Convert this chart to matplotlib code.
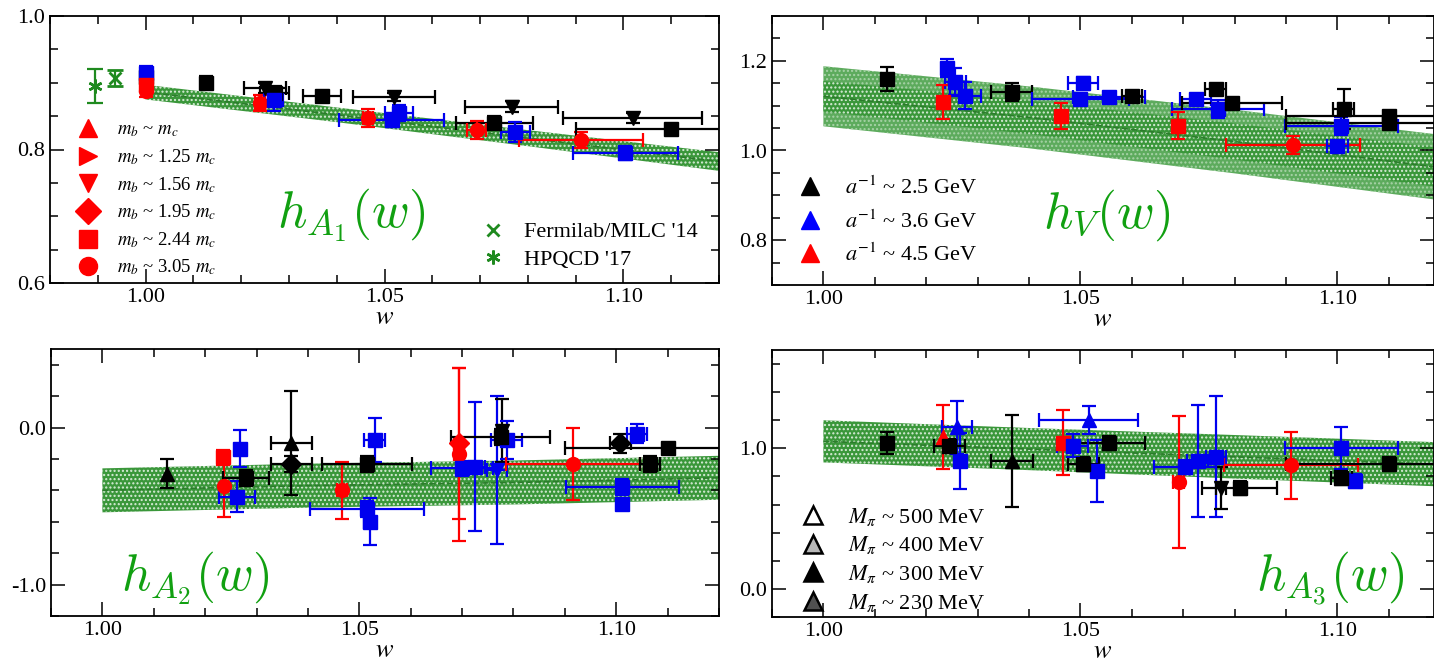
import matplotlib.pyplot as plt
from matplotlib.lines import Line2D
from matplotlib.ticker import MultipleLocator

plt.rcParams['font.family'] = ['Liberation Serif', 'DejaVu Serif']
plt.rcParams['mathtext.fontset'] = 'stix'
plt.rcParams['hatch.linewidth'] = 1.0

# fit bands (w nodes, centre, half width)
band_w = [1.00, 1.04, 1.08, 1.12]
ha1_mid = [0.886, 0.852, 0.817, 0.782]
ha1_err = [0.011, 0.011, 0.012, 0.014]
hv_mid = [1.121, 1.074, 1.020, 0.962]
hv_err_in = [0.034, 0.037, 0.040, 0.044]
hv_err_out = [0.067, 0.069, 0.071, 0.073]
ha2_mid = [-0.40, -0.37, -0.35, -0.32]
ha2_err = [0.14, 0.14, 0.14, 0.14]
ha3_mid = [1.05, 0.995, 0.94, 0.886]
ha3_err = [0.15, 0.15, 0.155, 0.157]

# lattice data: w, value, w error, value error, colour, symbol
ha1_w = [1.000, 1.000, 1.000, 1.000, 1.0127, 1.025, 1.027, 1.024, 1.0268, 1.0369, 1.0465,
         1.0515, 1.053, 1.052, 1.0766, 1.073, 1.0693, 1.0774, 1.0911, 1.1019, 1.1004, 1.110]
ha1_val = [0.908, 0.915, 0.897, 0.888, 0.900, 0.892, 0.885, 0.870, 0.874, 0.880, 0.847,
           0.844, 0.855, 0.879, 0.864, 0.840, 0.829, 0.826, 0.814, 0.847, 0.795, 0.830]
ha1_werr = [0, 0, 0, 0, 0, 0.0043, 0.003, 0.001, 0.002, 0.004, 0.001,
            0.011, 0.003, 0.0086, 0.0097, 0.008, 0.002, 0.003, 0.013, 0.0145, 0.011, 0.020]
ha1_verr = [0.008, 0.010, 0.010, 0.010, 0.010, 0.008, 0.010, 0.012, 0.016, 0.008, 0.013,
            0.010, 0.012, 0.006, 0.008, 0.010, 0.013, 0.015, 0.012, 0.008, 0.010, 0.006]
ha1_col = "kbrrkkkrbkrbbkkkrbrkbk"
ha1_mk = "sssosvsossossvvsosovss"

fnal_w, fnal_val, fnal_err = [0.9936], [0.907], [0.012]
hpqcd_w, hpqcd_val, hpqcd_err = [0.9894], [0.895], [0.026]

hv_w = [1.0123, 1.024, 1.0257, 1.0276, 1.0233, 1.0366, 1.050, 1.0505, 1.0463, 1.0555, 1.060,
        1.0724, 1.0768, 1.0763, 1.069, 1.0795, 1.0914, 1.1008, 1.1012, 1.110, 1.110, 1.100]
hv_val = [1.160, 1.185, 1.153, 1.122, 1.108, 1.130, 1.115, 1.150, 1.077, 1.120, 1.121,
          1.115, 1.092, 1.137, 1.055, 1.107, 1.013, 1.054, 1.092, 1.077, 1.062, 1.010]
hv_werr = [0, 0, 0.002, 0.003, 0, 0.004, 0.0095, 0.003, 0, 0.007, 0.002,
           0.003, 0.009, 0.002, 0, 0.0097, 0.013, 0.011, 0.002, 0.020, 0.020, 0.002]
hv_verr = [0.027, 0.020, 0.030, 0.030, 0.037, 0.020, 0.012, 0.015, 0.030, 0.010, 0.012,
           0.012, 0.020, 0.012, 0.030, 0.008, 0.020, 0.020, 0.045, 0.006, 0.006, 0.012]
hv_col = "kbbbrkbbrbkbbkrkrbkkkb"
hv_mk = "ssssssssssssssssosssss"

ha2_w = [1.0125, 1.0234, 1.0236, 1.0267, 1.0262, 1.0280, 1.0368, 1.0368, 1.0466, 1.0515,
         1.053, 1.052, 1.0515, 1.0694, 1.0694, 1.0725, 1.0768, 1.0778, 1.0787, 1.0775,
         1.0916, 1.1012, 1.1012, 1.1008, 1.104, 1.110, 1.1066, 1.070]
ha2_val = [-0.293, -0.19, -0.37, -0.134, -0.44, -0.32, -0.10, -0.23, -0.40, -0.52,
           -0.08, -0.60, -0.23, -0.10, -0.17, -0.25, -0.27, -0.02, -0.08, -0.06,
           -0.23, -0.38, -0.49, -0.10, -0.04, -0.13, -0.23, -0.26]
ha2_werr = [0, 0, 0, 0, 0.0035, 0.0045, 0.004, 0.004, 0.001, 0.011,
            0.002, 0.001, 0.0087, 0.001, 0.001, 0.002, 0.002, 0.001, 0.003, 0.0097,
            0.013, 0.011, 0, 0.002, 0.002, 0.020, 0.002, 0.006]
ha2_verr = [0.09, 0.05, 0.20, 0.12, 0.10, 0.05, 0.33, 0.05, 0.18, 0.05,
            0.14, 0.15, 0.05, 0.48, 0.55, 0.41, 0.47, 0.20, 0.12, 0.05,
            0.23, 0.05, 0.03, 0.06, 0.06, 0.03, 0.05, 0.05]
ha2_col = "krrbbkkkrbbbkrrbbkbkrbbkbkkb"
ha2_mk = "^sosss^DossssDosvvssossDssss"

ha3_w = [1.0123, 1.0232, 1.0266, 1.0260, 1.0245, 1.0367, 1.0467, 1.0533, 1.0516, 1.0506,
         1.0555, 1.0691, 1.0728, 1.0764, 1.0773, 1.0703, 1.081, 1.091, 1.1008, 1.1035,
         1.1008, 1.110, 1.0485]
ha3_val = [1.04, 1.08, 0.91, 1.15, 1.02, 0.91, 1.04, 0.84, 1.20, 0.89,
           1.04, 0.76, 0.91, 0.94, 0.72, 0.87, 0.72, 0.88, 1.00, 0.77,
           0.79, 0.89, 1.02]
ha3_werr = [0, 0, 0, 0.003, 0.003, 0.004, 0, 0, 0.0096, 0.003,
            0.007, 0.001, 0.002, 0.002, 0.001, 0.006, 0.0073, 0.013, 0.011, 0.001,
            0.002, 0.020, 0.003]
ha3_verr = [0.08, 0.23, 0.20, 0.19, 0.05, 0.33, 0.23, 0.22, 0.10, 0.05,
            0.05, 0.47, 0.40, 0.43, 0.15, 0.05, 0.05, 0.24, 0.15, 0.05,
            0.05, 0.05, 0.08]
ha3_col = "krbbkkrbbkkrbbkbkrbbkkb"
ha3_mk = "s^s^s^ss^ssossvssosssss"

# legends
mass_labels = [r'$m_b$ ~ $m_c$', r'$m_b$ ~ 1.25 $m_c$', r'$m_b$ ~ 1.56 $m_c$',
               r'$m_b$ ~ 1.95 $m_c$', r'$m_b$ ~ 2.44 $m_c$', r'$m_b$ ~ 3.05 $m_c$']
mass_markers = ['^', '>', 'v', 'D', 's', 'o']
spacing_labels = [r'$a^{-1}$ ~ 2.5 GeV', r'$a^{-1}$ ~ 3.6 GeV', r'$a^{-1}$ ~ 4.5 GeV']
spacing_colors = ['black', 'blue', 'red']
pion_labels = [r'$M_\pi$ ~ 500 MeV', r'$M_\pi$ ~ 400 MeV', r'$M_\pi$ ~ 300 MeV',
               r'$M_\pi$ ~ 230 MeV']
pion_faces = ['white', '#b8b8b8', 'black', '#505050']

colmap = {'k': 'black', 'b': '#0000ee', 'r': '#ff0000'}
band_green = '#3a973a'
line_green = '#2b7d2b'
label_green = '#11a011'

W, H = 1434, 664
fig = plt.figure(figsize=(W / 100, H / 100), dpi=100)


def add_axes(x0, y_top, x1, y_bot):
    return fig.add_axes([x0 / W, 1 - y_bot / H, (x1 - x0) / W, (y_bot - y_top) / H])


def style(ax, xlim, ylim, ymaj, ymin):
    ax.set_xlim(*xlim)
    ax.set_ylim(*ylim)
    ax.xaxis.set_major_locator(MultipleLocator(0.05))
    ax.xaxis.set_minor_locator(MultipleLocator(0.01))
    ax.yaxis.set_major_locator(MultipleLocator(ymaj))
    ax.yaxis.set_minor_locator(MultipleLocator(ymin))
    ax.xaxis.set_major_formatter(lambda v, p: '%.2f' % v)
    ax.yaxis.set_major_formatter(lambda v, p: '%.1f' % v)
    ax.tick_params(which='both', direction='in', top=True, right=True, labelsize=16)
    ax.tick_params(which='major', length=10, width=1.1)
    ax.tick_params(which='minor', length=6, width=1.1)
    for s in ax.spines.values():
        s.set_linewidth(1.3)
    ax.set_xlabel('$w$', fontsize=19, labelpad=0)


def band(ax, mid, err, color, dots='#d8ecd8'):
    lo = [m - e for m, e in zip(mid, err)]
    hi = [m + e for m, e in zip(mid, err)]
    ax.fill_between(band_w, lo, hi, facecolor=color, edgecolor=dots,
                    hatch='....', linewidth=0, zorder=1)


def points(ax, w, val, werr, verr, col, mk):
    for i in range(len(w)):
        c = colmap[col[i]]
        ax.errorbar(w[i], val[i], xerr=werr[i], yerr=verr[i], fmt=mk[i], color=c,
                    ms=10, mec=c, capsize=5, elinewidth=1.6, capthick=1.6, zorder=3)


# h_A1
ax1 = add_axes(50, 16, 719, 283)
band(ax1, ha1_mid, ha1_err, band_green)
ax1.plot(band_w, ha1_mid, '--', color=line_green, lw=1.2, zorder=2)
points(ax1, ha1_w, ha1_val, ha1_werr, ha1_verr, ha1_col, ha1_mk)
ax1.errorbar(fnal_w, fnal_val, yerr=fnal_err, fmt='x', color='#1f8a1f', ms=8, mew=2,
             capsize=6, elinewidth=1.6, capthick=1.6, zorder=3)
ax1.errorbar(hpqcd_w, hpqcd_val, yerr=hpqcd_err, fmt='none', color='#1f8a1f',
             capsize=6, elinewidth=1.6, capthick=1.6, zorder=3)
ax1.plot(hpqcd_w, hpqcd_val, marker=(6, 2, 0), ls='none', color='#1f8a1f', ms=10, mew=1.8,
         zorder=3)
style(ax1, (0.98, 1.12), (0.6, 1.0), 0.2, 0.05)
h1 = [Line2D([], [], marker=m, ls='none', color='red', ms=13) for m in mass_markers]
leg = ax1.legend(h1, mass_labels, loc='lower left', bbox_to_anchor=(0.035, 0.0),
                 frameon=False, fontsize=13.5, handlelength=1.0, handletextpad=1.0,
                 labelspacing=0.42, borderpad=0, borderaxespad=0.3)
ax1.add_artist(leg)
h2 = [Line2D([], [], marker='x', ls='none', color='#1f8a1f', ms=8, mew=2),
      Line2D([], [], marker=(6, 2, 0), ls='none', color='#1f8a1f', ms=10, mew=1.8)]
ax1.legend(h2, ["Fermilab/MILC '14", "HPQCD '17"], loc='lower left',
           bbox_to_anchor=(0.645, 0.05), frameon=False, fontsize=16, handlelength=1.0,
           handletextpad=0.9, labelspacing=0.3, borderpad=0, borderaxespad=0)
ax1.text(0.45, 0.255, r'$h_{A_1}(w)$', transform=ax1.transAxes, fontsize=37,
         color=label_green, ha='center', va='center', math_fontfamily='cm')

# h_V
ax2 = add_axes(772, 16, 1434, 285)
band(ax2, hv_mid, hv_err_out, '#5dab5d', dots='#a8d3a8')
band(ax2, hv_mid, hv_err_in, band_green)
ax2.plot(band_w, hv_mid, '--', color=line_green, lw=1.2, zorder=2)
points(ax2, hv_w, hv_val, hv_werr, hv_verr, hv_col, hv_mk)
style(ax2, (0.99, 1.1188), (0.7, 1.3), 0.2, 0.05)
h3 = [Line2D([], [], marker='^', ls='none', color=c, ms=13) for c in spacing_colors]
ax2.legend(h3, spacing_labels, loc='lower left', bbox_to_anchor=(0.04, 0.07),
           frameon=False, fontsize=16, handlelength=1.0, handletextpad=1.1,
           labelspacing=0.5, borderpad=0, borderaxespad=0)
ax2.text(0.506, 0.26, r'$h_V(w)$', transform=ax2.transAxes, fontsize=37,
         color=label_green, ha='center', va='center', math_fontfamily='cm')

# h_A2
ax3 = add_axes(51, 349, 719, 616)
band(ax3, ha2_mid, ha2_err, band_green)
ax3.plot(band_w, ha2_mid, '--', color=line_green, lw=1.2, zorder=2)
points(ax3, ha2_w, ha2_val, ha2_werr, ha2_verr, ha2_col, ha2_mk)
style(ax3, (0.99, 1.12), (-1.2, 0.5), 1.0, 0.2)
ax3.text(0.216, 0.142, r'$h_{A_2}(w)$', transform=ax3.transAxes, fontsize=37,
         color=label_green, ha='center', va='center', math_fontfamily='cm')

# h_A3
ax4 = add_axes(772, 350, 1434, 617)
band(ax4, ha3_mid, ha3_err, band_green)
ax4.plot(band_w, ha3_mid, '--', color=line_green, lw=1.2, zorder=2)
points(ax4, ha3_w, ha3_val, ha3_werr, ha3_verr, ha3_col, ha3_mk)
style(ax4, (0.99, 1.1188), (-0.2, 1.7), 1.0, 0.2)
h4 = [Line2D([], [], marker='^', ls='none', mfc=f, mec='black', mew=1.8, ms=13)
      for f in pion_faces]
ax4.legend(h4, pion_labels, loc='lower left', bbox_to_anchor=(0.04, 0.0),
           frameon=False, fontsize=16, handlelength=1.0, handletextpad=1.1,
           labelspacing=0.3, borderpad=0, borderaxespad=0.15)
ax4.text(0.843, 0.146, r'$h_{A_3}(w)$', transform=ax4.transAxes, fontsize=37,
         color=label_green, ha='center', va='center', math_fontfamily='cm')

fig.savefig('out.png', dpi=100)
